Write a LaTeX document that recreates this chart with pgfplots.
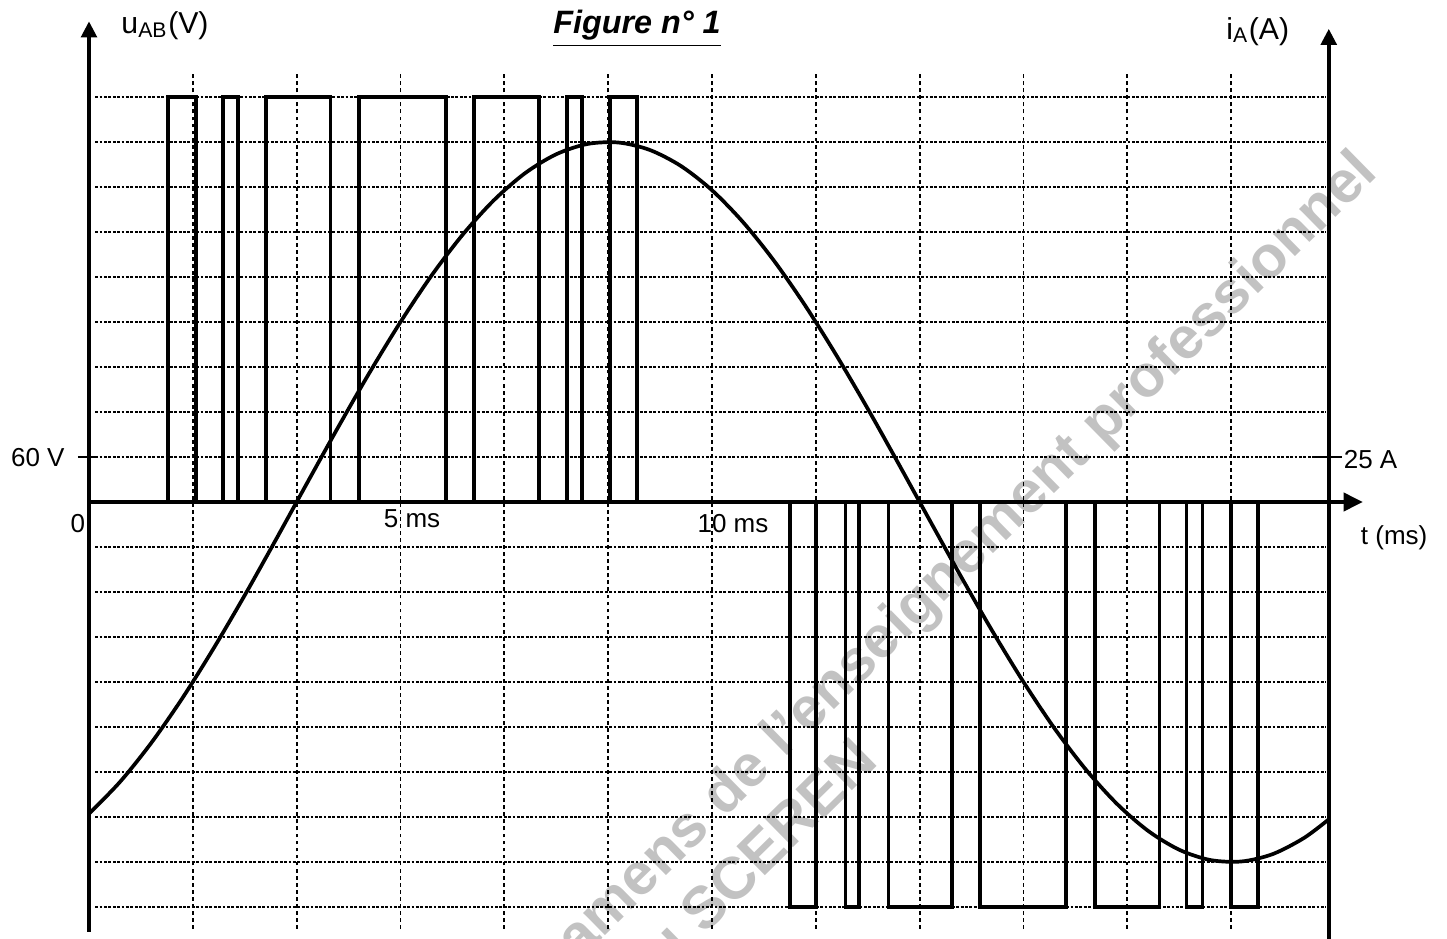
\documentclass[border=0pt]{standalone}
\usepackage{pgfplots}
\pgfplotsset{compat=1.18}
\usepackage{fontspec}
\setmainfont{Liberation Sans}
\usetikzlibrary{arrows.meta}
\begin{document}
\begin{tikzpicture}
\def\W{14.47cm}\def\H{9.38cm}
\tikzset{
  lbl/.style={inner sep=0pt,font=\fontsize{7.4}{9}\selectfont},
  gridh/.style={line width=0.5pt,dash pattern=on 0.8pt off 0.45pt},
  gridv/.style={line width=0.5pt,dash pattern=on 1.1pt off 0.9pt},
  wm/.style={rotate=44.5,inner sep=0pt,text=black!24,font=\fontsize{16.8}{20}\selectfont\bfseries}
}
\begin{axis}[width=\W,height=\H,scale only axis,
  xmin=-1.4286,xmax=21.798,ymin=-581.33,ymax=669.33,
  hide axis,clip=true]
\coordinate (BL) at (rel axis cs:0,0);
\coordinate (TR) at (rel axis cs:1,1);
% watermark
\node[wm,anchor=base east] at (axis cs:20.72,437) {amens de l'enseignement professionnel};
\node[wm,anchor=base east] at (axis cs:12.70,-348) {u SCEREN};
% grid
\pgfplotsinvokeforeach{1.6667,3.3333,5,6.6667,8.3333,10,11.6667,13.3333,15,16.6667,18.3333}{
  \draw[gridv] (axis cs:#1,-569) -- (axis cs:#1,572);
}
\pgfplotsinvokeforeach{60,120,180,240,300,360,420,480,540,-60,-120,-180,-240,-300,-360,-420,-480,-540}{
  \draw[gridh] (axis cs:0.1,#1) -- (axis cs:19.85,#1);
}
% u_AB PWM voltage
\addplot[line width=1pt] coordinates {
 (1.27,0)(1.27,540)(1.72,540)(1.72,0)
 (2.15,0)(2.15,540)(2.39,540)(2.39,0)
 (2.84,0)(2.84,540)(3.88,540)(3.88,0)
 (4.33,0)(4.33,540)(5.73,540)(5.73,0)
 (6.18,0)(6.18,540)(7.22,540)(7.22,0)
 (7.67,0)(7.67,540)(7.91,540)(7.91,0)
 (8.36,0)(8.36,540)(8.80,540)(8.80,0)
 (11.25,0)(11.25,-540)(11.67,-540)(11.67,0)
 (12.14,0)(12.14,-540)(12.36,-540)(12.36,0)
 (12.83,0)(12.83,-540)(13.85,-540)(13.85,0)
 (14.30,0)(14.30,-540)(15.68,-540)(15.68,0)
 (16.15,0)(16.15,-540)(17.18,-540)(17.18,0)
 (17.62,0)(17.62,-540)(17.87,-540)(17.87,0)
 (18.33,0)(18.33,-540)(18.76,-540)(18.76,0)
};
% axes
\draw[line width=1.4pt,-{Triangle[length=5.5pt,width=5pt]}] (axis cs:0,0) -- (axis cs:20.45,0);
\draw[line width=1.4pt,-{Triangle[length=4.6pt,width=4.4pt]}] (axis cs:0,-573) -- (axis cs:0,641);
\draw[line width=1.2pt,-{Triangle[length=4.6pt,width=4.4pt]}] (axis cs:19.9,-600) -- (axis cs:19.9,631);
\draw[line width=0.45pt] (axis cs:-0.177,60) -- (axis cs:0.128,60);
\draw[line width=0.45pt] (axis cs:19.68,60) -- (axis cs:20.11,60);
% labels
\node[lbl] at (axis cs:-0.177,-29.3) {0};
\node[lbl,anchor=east] at (axis cs:-0.38,58.7) {60 V};
\node[lbl] at (axis cs:5.185,-22.7) {5 ms};
\node[lbl] at (axis cs:10.337,-28.7) {10 ms};
\node[lbl,anchor=base] at (axis cs:20.95,-57.3) {t (ms)};
\node[lbl,anchor=west] at (axis cs:20.13,56) {25 A};
\node[lbl,anchor=base,font=\fontsize{8.6}{10}\selectfont] at (axis cs:1.22,624) {u\textsubscript{AB}(V)};
\node[lbl,anchor=base,font=\fontsize{8.6}{10}\selectfont] at (axis cs:18.76,617) {i\textsubscript{A}(A)};
\node[inner sep=0pt,anchor=base,font=\fontsize{9.2}{11}\selectfont\bfseries\itshape] at (axis cs:8.796,624) {\underline{Figure n° 1}};
\end{axis}
\begin{axis}[width=\W,height=\H,scale only axis,
  xmin=-1.4286,xmax=21.798,ymin=-242.22,ymax=278.89,
  hide axis,clip=true]
% i_A current
\addplot[line width=1.05pt,smooth] coordinates {
 (0,-173.2)(0.5,-155.4)(1,-133.8)(1.5,-108.9)(2,-81.3)(2.5,-51.8)(3,-20.9)
 (3.5,10.5)(4,41.6)(4.5,71.7)(5,100)(5.5,125.9)(6,148.6)(6.5,167.7)(7,182.7)
 (7.5,193.2)(8,198.9)(8.5,199.7)(9,195.6)(9.5,186.7)(10,173.2)(10.5,155.4)
 (11,133.8)(11.5,108.9)(12,81.3)(12.5,51.8)(13,20.9)(13.5,-10.5)(14,-41.6)
 (14.5,-71.7)(15,-100)(15.5,-125.9)(16,-148.6)(16.5,-167.7)(17,-182.7)
 (17.5,-193.2)(18,-198.9)(18.5,-199.7)(19,-195.6)(19.5,-186.7)(19.9,-176.3)
};
\end{axis}
\pgfresetboundingbox
\path[use as bounding box] (BL) rectangle (TR);
\end{tikzpicture}
\end{document}
